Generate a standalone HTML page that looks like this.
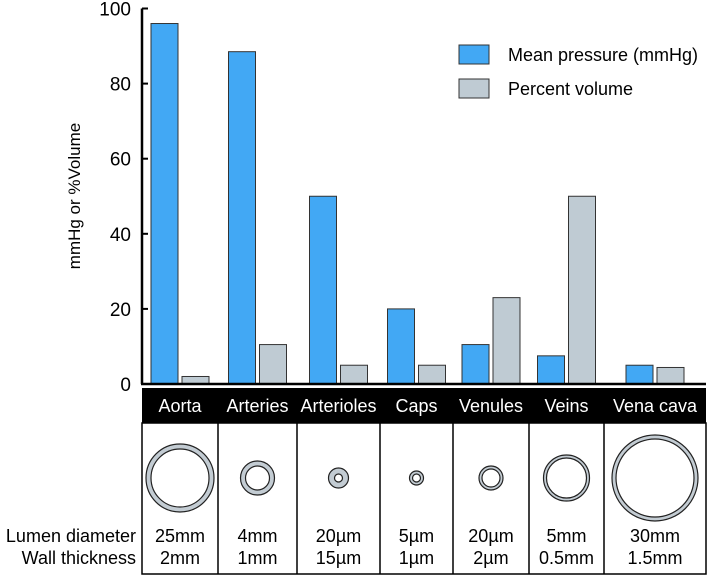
<!DOCTYPE html>
<html><head><meta charset="utf-8">
<style>
body{margin:0;background:#fff;}
svg{display:block;font-family:"Liberation Sans",sans-serif;}
</style></head>
<body>
<svg id="chart" width="709" height="576" viewBox="0 0 709 576">
<g id="bars"></g>
<g id="axis"></g>
<text x="80" y="196" transform="rotate(-90 80 196)" text-anchor="middle" font-size="17">mmHg or %Volume</text>
<g>
<rect x="459" y="45" width="30" height="19" fill="#42a8f4" stroke="#333"/>
<text x="508" y="61" font-size="18">Mean pressure (mmHg)</text>
<rect x="459" y="79" width="30" height="19" fill="#bfcbd3" stroke="#333"/>
<text x="508" y="95" font-size="18">Percent volume</text>
</g>
<g id="table"></g>
<text x="136" y="542" text-anchor="end" font-size="18">Lumen diameter</text>
<text x="136" y="564" text-anchor="end" font-size="18">Wall thickness</text>
</svg>
<script>
const categories=["Aorta","Arteries","Arterioles","Caps","Venules","Veins","Vena cava"];
const pressure=[96,88.5,50,20,10.5,7.5,5];
const volume=[2,10.5,5,5,23,50,4.4];
const yTicks=[0,20,40,60,80,100];
const lumen=["25mm","4mm","20µm","5µm","20µm","5mm","30mm"];
const wall=["2mm","1mm","15µm","1µm","2µm","0.5mm","1.5mm"];
const outerR=[34,17,10,7,12,23,43];
const innerR=[29,12,4,4,9,20,39];
const colEdges=[142,218,297,380,453,529,604,706];

const NS="http://www.w3.org/2000/svg";
const y=v=>384-v*3.755;
function mk(tag,attrs,parent,txt){const e=document.createElementNS(NS,tag);for(const k in attrs)e.setAttribute(k,attrs[k]);if(txt!==undefined)e.textContent=txt;parent.appendChild(e);return e;}
const bars=document.getElementById('bars'),axis=document.getElementById('axis'),table=document.getElementById('table');
const bw=27;
categories.forEach((c,i)=>{
  const cx=(colEdges[i]+colEdges[i+1])/2;
  const b1=mk('rect',{x:cx-bw-2,y:y(pressure[i]),width:bw,height:y(0)-y(pressure[i]),fill:'#42a8f4',stroke:'#333','stroke-width':1},bars);
  
  
  const b2=mk('rect',{x:cx+2,y:y(volume[i]),width:bw,height:y(0)-y(volume[i]),fill:'#bfcbd3',stroke:'#333','stroke-width':1},bars);
  
  
});
const al=mk('line',{x1:142,y1:y(100),x2:142,y2:y(0),stroke:'#000','stroke-width':2.5},axis);


const xl=mk('line',{x1:141,y1:y(0),x2:706,y2:y(0),stroke:'#000','stroke-width':2.5},axis);


yTicks.forEach(t=>{
  const tk=mk('line',{x1:142,y1:y(t),x2:148,y2:y(t),stroke:'#000','stroke-width':2},axis);
  
  
  const tl=mk('text',{x:131,y:y(t)+7,'text-anchor':'end','font-size':19},axis,t);
  
  
});
const band=mk('rect',{x:142,y:388,width:564,height:35,fill:'#000'},table);


const box=mk('rect',{x:142,y:423,width:564,height:151,fill:'none',stroke:'#000','stroke-width':1.5},table);


categories.forEach((c,i)=>{
  const cx=(colEdges[i]+colEdges[i+1])/2;
  if(i>0){const d=mk('line',{x1:colEdges[i],y1:423,x2:colEdges[i],y2:574,stroke:'#000','stroke-width':1.5},table);
    
    }
  const h=mk('text',{x:cx,y:412,'text-anchor':'middle','font-size':18,fill:'#fff'},table,c);
  
  
  const o=mk('circle',{cx:cx,cy:478,r:outerR[i],fill:'#c3ccd3',stroke:'#222','stroke-width':1.2},table);
  
  
  const n=mk('circle',{cx:cx,cy:478,r:innerR[i],fill:'#fff',stroke:'#222','stroke-width':1.2},table);
  
  
  const l=mk('text',{x:cx,y:542,'text-anchor':'middle','font-size':18},table,lumen[i]);
  
  
  const w=mk('text',{x:cx,y:564,'text-anchor':'middle','font-size':18},table,wall[i]);
  
  
});
</script>
</body></html>
